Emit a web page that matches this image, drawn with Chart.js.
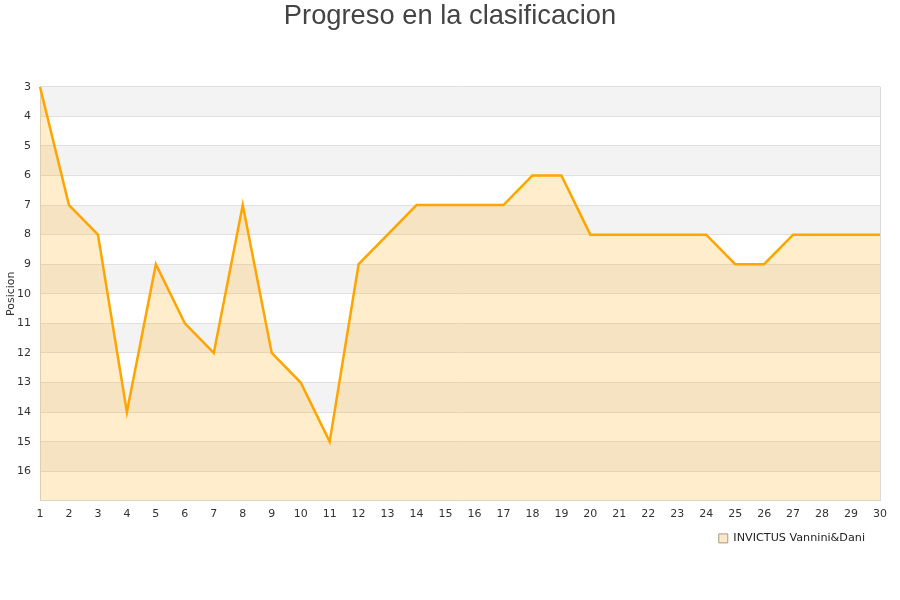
<!DOCTYPE html>
<html>
<head>
<meta charset="utf-8">
<script src="https://cdn.jsdelivr.net/npm/chart.js@4/dist/chart.umd.min.js"></script>
<style>
html,body{margin:0;padding:0;background:#fff;}
#wrap{width:900px;height:600px;}
</style>
</head>
<body>
<div id="wrap"><canvas id="c" width="900" height="600"></canvas></div>
<script>
const rounds = ['1','2','3','4','5','6','7','8','9','10','11','12','13','14','15','16','17','18','19','20','21','22','23','24','25','26','27','28','29','30'];
const positions = [3,7,8,14,9,11,12,7,12,13,15,9,8,7,7,7,7,6,6,8,8,8,8,8,9,9,8,8,8,8];
const seriesName = 'INVICTUS Vannini&Dani';
const chartTitle = 'Progreso en la clasificacion';
const yTitle = 'Posicion';
const yMin = 3, yMax = 17;

const bandPlugin = {
  id: 'bands',
  afterLayout(chart) {
    const t = chart.titleBlock;
    if (t) { t.left = 0; t.right = chart.width; t.width = chart.width; }
    const l = chart.legend;
    if (l) { l.left -= 8; l.right -= 8; }
  },
  beforeDraw(chart) {
    const {ctx, chartArea, scales} = chart;
    const y = scales.y;
    ctx.save();
    ctx.fillStyle = '#f3f3f3';
    for (let v = yMin; v < yMax; v += 2) {
      const p1 = y.getPixelForValue(v);
      const p2 = y.getPixelForValue(v + 1);
      ctx.fillRect(chartArea.left, Math.min(p1, p2), chartArea.right - chartArea.left, Math.abs(p2 - p1));
    }
    ctx.restore();
  },
  afterDraw(chart) {
    const {ctx, chartArea} = chart;
    ctx.save();
    ctx.strokeStyle = '#d9d9d9';
    ctx.lineWidth = 1;
    ctx.beginPath();
    ctx.moveTo(chartArea.right + 0.5, chartArea.top);
    ctx.lineTo(chartArea.right + 0.5, chartArea.bottom);
    ctx.stroke();
    ctx.restore();
  }
};

new Chart(document.getElementById('c'), {
  type: 'line',
  data: {
    labels: rounds,
    datasets: [{
      label: seriesName,
      data: positions,
      borderColor: '#ffa500',
      borderWidth: 2.5,
      backgroundColor: 'rgba(255,165,0,0.2)',
      fill: { value: yMax },
      pointRadius: 0,
      tension: 0
    }]
  },
  options: {
    responsive: false,
    animation: false,
    layout: { padding: { left: 0, right: 20, top: 0, bottom: 46 } },
    plugins: {
      title: {
        display: true,
        text: chartTitle,
        color: '#444',
        font: { family: 'Liberation Sans', size: 27.3, weight: 'normal' },
        padding: { top: 0, bottom: 54 }
      },
      legend: {
        position: 'bottom',
        align: 'end',
        labels: {
          boxWidth: 9,
          boxHeight: 9,
          color: '#222',
          font: { family: 'DejaVu Sans', size: 11.2 },
          padding: 7,
          generateLabels(chart) {
            return [{
              text: seriesName,
              fillStyle: '#fde9c8',
              strokeStyle: '#a89a80',
              lineWidth: 1,
              hidden: false,
              datasetIndex: 0,
              fontColor: '#222'
            }];
          }
        }
      },
      tooltip: { enabled: false }
    },
    scales: {
      x: {
        offset: false,
        afterFit(scale) { scale.height = 25; },
        grid: { display: false, drawTicks: false },
        border: { display: true, color: '#d9d9d9' },
        ticks: { color: '#333', font: { family: 'DejaVu Sans', size: 11 }, maxRotation: 0, autoSkip: false, padding: 7 }
      },
      y: {
        reverse: true,
        min: yMin,
        max: yMax,
        afterFit(scale) { scale.width = 40; },
        grid: { color: '#e0e0e0', drawTicks: false },
        border: { display: true, color: '#d9d9d9' },
        title: { display: true, text: yTitle, color: '#333', font: { family: 'DejaVu Sans', size: 11 }, padding: { top: 5, bottom: 0 } },
        ticks: {
          stepSize: 1,
          color: '#333',
          font: { family: 'DejaVu Sans', size: 11 },
          padding: 9,
          callback(v) { return v === yMax ? null : v; }
        }
      }
    }
  },
  plugins: [bandPlugin]
});
</script>
</body>
</html>
